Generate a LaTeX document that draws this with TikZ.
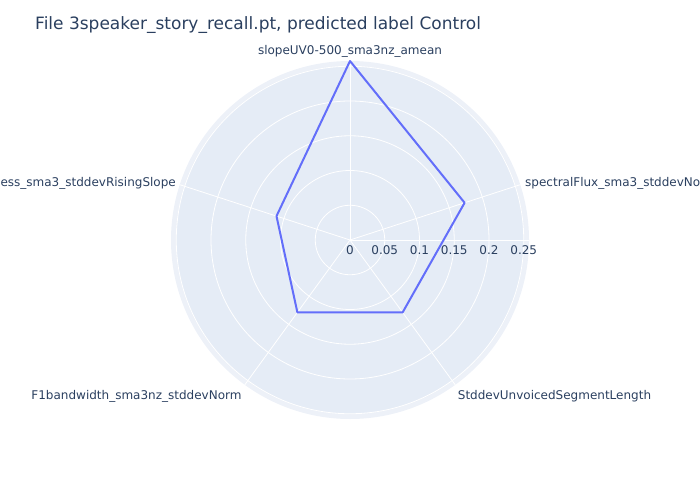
\documentclass[tikz,border=0pt]{standalone}
\usepackage{fontspec}
\setmainfont{DejaVu Sans}
\definecolor{polarbg}{HTML}{E5ECF6}
\definecolor{polarrim}{HTML}{EDF1F8}
\definecolor{trace}{HTML}{636EFA}
\definecolor{labeltext}{HTML}{2A3F5F}

\begin{document}
\begin{tikzpicture}[x=1pt, y=1pt,
    axislabel/.style={inner sep=0pt, text=labeltext, font=\fontsize{12}{14}\selectfont},
    ticklabel/.style={inner sep=0pt, anchor=base, text=labeltext, font=\fontsize{12}{14}\selectfont},
    gridline/.style={white, line width=0.8pt}]
        \useasboundingbox (0,0) rectangle (700,-500);

        % title
        \node[inner sep=0pt, anchor=base west, text=labeltext, font=\fontsize{17}{20}\selectfont] (title) at (35,-30) {File 3speaker\_story\_recall.pt, predicted label Control};

    \begin{scope}[shift={(350,-240)}]
        % polar background
        \fill[polarrim] (0,0) circle (179);
        \fill[polarbg] (0,0) circle (174);

        \draw[gridline] (0,0) circle (34.75);
        \draw[gridline] (0,0) circle (69.5);
        \draw[gridline] (0,0) circle (104.25);
        \draw[gridline] (0,0) circle (139);
        \draw[gridline] (0,0) circle (173.75);

        \coordinate (o) at (0,0);
        \coordinate (slope) at (90:179);
        \coordinate (flux) at (18:179);
        \coordinate (rising) at (162:179);
        \coordinate (fband) at (234:179);
        \coordinate (unvoiced) at (306:179);

        \draw[gridline] (o) -- (slope);
        \draw[gridline] (o) -- (flux);
        \draw[gridline] (o) -- (rising);
        \draw[gridline] (o) -- (fband);
        \draw[gridline] (o) -- (unvoiced);
        \draw[gridline] (o) -- (179,0);

        % radial ticks
        \node[ticklabel] (t0) at (0,-14) {0};
        \node[ticklabel] (t1) at (34.75,-14) {0.05};
        \node[ticklabel] (t2) at (69.5,-14) {0.1};
        \node[ticklabel] (t3) at (104.25,-14) {0.15};
        \node[ticklabel] (t4) at (139,-14) {0.2};
        \node[ticklabel] (t5) at (173.75,-14) {0.25};

        % trace
        \coordinate (v1) at (90:179);
        \coordinate (v2) at (162:77.3);
        \coordinate (v3) at (234:89.5);
        \coordinate (v4) at (306:89.5);
        \coordinate (v5) at (18:120.5);
        \draw[trace, line width=2pt, line join=round] (v1) -- (v2) -- (v3) -- (v4) -- (v5) -- cycle;
    \end{scope}

        % axis labels
        \node[axislabel, anchor=base] (lslope) at (350,-55) {slopeUV0-500\_sma3nz\_amean};
        \node[axislabel, anchor=base west] (lflux) at (525,-186.7) {spectralFlux\_sma3\_stddevNo};
        \node[axislabel, anchor=base east] (lrising) at (176,-186.7) {ess\_sma3\_stddevRisingSlope};
        \node[axislabel, anchor=base east] (lfband) at (241.7,-399.3) {F1bandwidth\_sma3nz\_stddevNorm};
        \node[axislabel, anchor=base west] (lunvoiced) at (457.7,-399.3) {StddevUnvoicedSegmentLength};
    \end{tikzpicture}
\end{document}
